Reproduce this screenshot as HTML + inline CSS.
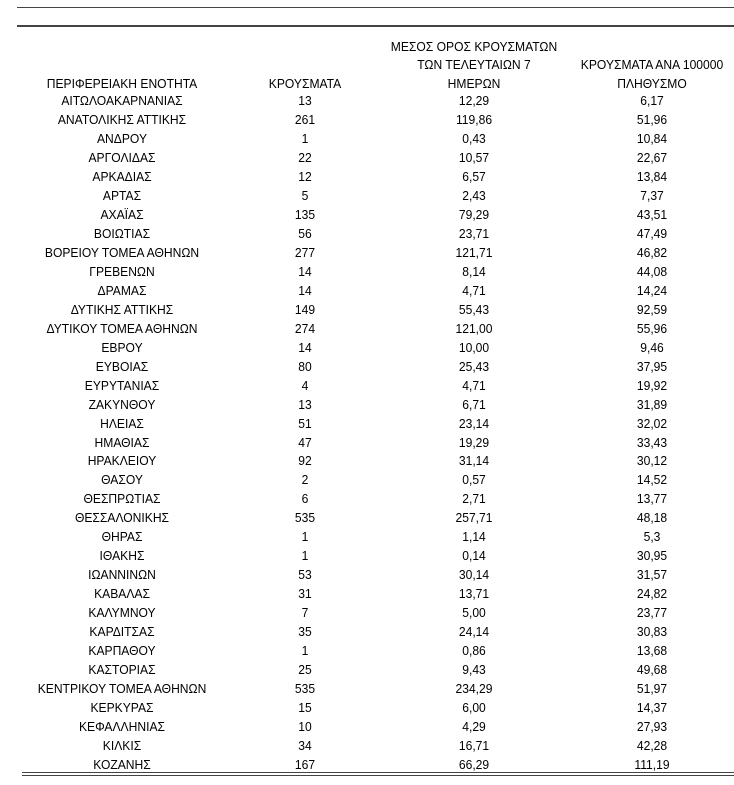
<!DOCTYPE html>
<html><head><meta charset="utf-8"><style>
body{margin:0;width:734px;height:785px;background:#fff;position:relative;font-family:"Liberation Sans","DejaVu Sans",sans-serif;font-size:13px;color:#000;overflow:hidden}
.l{position:absolute;background:#444}
.r{position:absolute;left:0;width:734px;height:18px;line-height:18px}
.r span,.h span{position:absolute;text-align:center;transform:translateX(-50%) scaleX(0.93);white-space:nowrap}
.h{position:absolute;line-height:18px}
</style></head><body>
<div class="l" style="left:17px;top:7px;width:717px;height:1px"></div>
<div class="l" style="left:17px;top:25px;width:717px;height:2px"></div>
<div class="h" style="top:38px;left:0"><span style="left:474px">ΜΕΣΟΣ ΟΡΟΣ ΚΡΟΥΣΜΑΤΩΝ</span></div>
<div class="h" style="top:56px;left:0"><span style="left:474px">ΤΩΝ ΤΕΛΕΥΤΑΙΩΝ 7</span><span style="left:652px;top:0">ΚΡΟΥΣΜΑΤΑ ΑΝΑ 100000</span></div>
<div class="h" style="top:75px;left:0"><span style="left:122px">ΠΕΡΙΦΕΡΕΙΑΚΗ ΕΝΟΤΗΤΑ</span><span style="left:305px">ΚΡΟΥΣΜΑΤΑ</span><span style="left:474px">ΗΜΕΡΩΝ</span><span style="left:652px">ΠΛΗΘΥΣΜΟ</span></div>
<div id="rows"></div>
<div class="l" style="left:22px;top:772px;width:712px;height:1px"></div>
<div class="l" style="left:22px;top:775px;width:712px;height:1px"></div>
<script>
var d=[["ΑΙΤΩΛΟΑΚΑΡΝΑΝΙΑΣ",13,"12,29","6,17"],["ΑΝΑΤΟΛΙΚΗΣ ΑΤΤΙΚΗΣ",261,"119,86","51,96"],["ΑΝΔΡΟΥ",1,"0,43","10,84"],["ΑΡΓΟΛΙΔΑΣ",22,"10,57","22,67"],["ΑΡΚΑΔΙΑΣ",12,"6,57","13,84"],["ΑΡΤΑΣ",5,"2,43","7,37"],["ΑΧΑΪΑΣ",135,"79,29","43,51"],["ΒΟΙΩΤΙΑΣ",56,"23,71","47,49"],["ΒΟΡΕΙΟΥ ΤΟΜΕΑ ΑΘΗΝΩΝ",277,"121,71","46,82"],["ΓΡΕΒΕΝΩΝ",14,"8,14","44,08"],["ΔΡΑΜΑΣ",14,"4,71","14,24"],["ΔΥΤΙΚΗΣ ΑΤΤΙΚΗΣ",149,"55,43","92,59"],["ΔΥΤΙΚΟΥ ΤΟΜΕΑ ΑΘΗΝΩΝ",274,"121,00","55,96"],["ΕΒΡΟΥ",14,"10,00","9,46"],["ΕΥΒΟΙΑΣ",80,"25,43","37,95"],["ΕΥΡΥΤΑΝΙΑΣ",4,"4,71","19,92"],["ΖΑΚΥΝΘΟΥ",13,"6,71","31,89"],["ΗΛΕΙΑΣ",51,"23,14","32,02"],["ΗΜΑΘΙΑΣ",47,"19,29","33,43"],["ΗΡΑΚΛΕΙΟΥ",92,"31,14","30,12"],["ΘΑΣΟΥ",2,"0,57","14,52"],["ΘΕΣΠΡΩΤΙΑΣ",6,"2,71","13,77"],["ΘΕΣΣΑΛΟΝΙΚΗΣ",535,"257,71","48,18"],["ΘΗΡΑΣ",1,"1,14","5,3"],["ΙΘΑΚΗΣ",1,"0,14","30,95"],["ΙΩΑΝΝΙΝΩΝ",53,"30,14","31,57"],["ΚΑΒΑΛΑΣ",31,"13,71","24,82"],["ΚΑΛΥΜΝΟΥ",7,"5,00","23,77"],["ΚΑΡΔΙΤΣΑΣ",35,"24,14","30,83"],["ΚΑΡΠΑΘΟΥ",1,"0,86","13,68"],["ΚΑΣΤΟΡΙΑΣ",25,"9,43","49,68"],["ΚΕΝΤΡΙΚΟΥ ΤΟΜΕΑ ΑΘΗΝΩΝ",535,"234,29","51,97"],["ΚΕΡΚΥΡΑΣ",15,"6,00","14,37"],["ΚΕΦΑΛΛΗΝΙΑΣ",10,"4,29","27,93"],["ΚΙΛΚΙΣ",34,"16,71","42,28"],["ΚΟΖΑΝΗΣ",167,"66,29","111,19"]];
var h="";d.forEach(function(r,i){var t=92+i*18.97;h+='<div class="r" style="top:'+t.toFixed(1)+'px"><span style="left:122px">'+r[0]+'</span><span style="left:305px">'+r[1]+'</span><span style="left:474px">'+r[2]+'</span><span style="left:652px">'+r[3]+'</span></div>';});
document.getElementById("rows").innerHTML=h;
</script>
</body></html>
